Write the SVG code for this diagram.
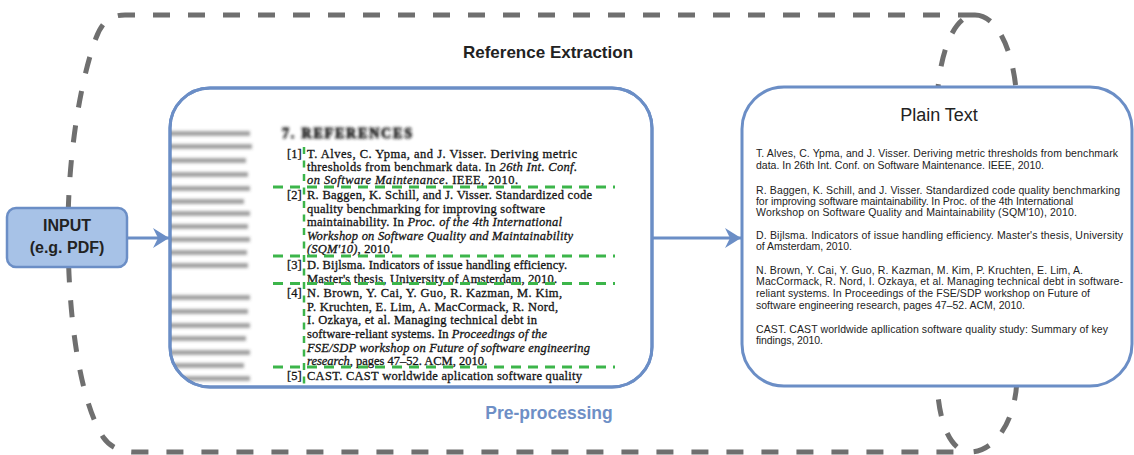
<svg xmlns="http://www.w3.org/2000/svg" width="1134" height="455" viewBox="0 0 1134 455">
<style>
.dash{fill:none;stroke:#6f6f6f;stroke-width:5;stroke-dasharray:17 18}
.panel{fill:#fff;stroke:#6b8ec6;stroke-width:3}
.conn{stroke:#6b8ec6;stroke-width:3;fill:none}
.title{font-family:"Liberation Sans",Arial,sans-serif;font-weight:bold;font-size:17px;fill:#222;text-anchor:middle}
.ser{font-family:"Liberation Serif","Times New Roman",serif;font-size:12.5px;fill:#141414;stroke:#141414;stroke-width:0.3}
.it{font-style:italic}
.san{font-family:"Liberation Sans",Arial,sans-serif;font-size:10.5px;fill:#222}
.gh{stroke:#3cb54a;stroke-width:3;stroke-dasharray:10 7;fill:none}
.gv{stroke:#3cb54a;stroke-width:2.5;stroke-dasharray:7 6.5;fill:none}
.blur{fill:#4a4a4a;opacity:0.5}
</style>
<defs>
<marker id="arr" markerUnits="userSpaceOnUse" markerWidth="18" markerHeight="20" refX="16" refY="10" orient="auto">
<path d="M0,0 L16,10 L0,20 L5,10 Z" fill="#6b8ec6"/>
</marker>
<filter id="bl" x="-10%" y="-50%" width="120%" height="200%"><feGaussianBlur stdDeviation="1.8"/></filter>
<filter id="bl2" x="-10%" y="-50%" width="120%" height="200%"><feGaussianBlur stdDeviation="1.5"/></filter>
<clipPath id="midclip"><rect x="170" y="88" width="482" height="299" rx="40"/></clipPath>
</defs>
<rect width="1134" height="455" fill="#fff"/>

<g id="boundary">
<path class="dash" d="M975,15 L125,15 C110,15 102,22 96,38 C82,75 68,150 68,230 C68,320 80,400 103,437 C110,447 120,452 135,452 L970,452"/>
<path class="dash" d="M975,15 C1000,15 1017,60 1017,110 L1017,375 C1017,420 995,452 970,452 C950,452 937,420 937,375 L937,110 C937,60 952,15 975,15 Z"/>
<text class="title" x="548" y="58">Reference Extraction</text>
<text class="title" x="549" y="419" style="fill:#6e8fc6;font-size:17.5px">Pre-processing</text>
</g>

<g id="connectors">
<line class="conn" x1="127" y1="238" x2="169" y2="238" marker-end="url(#arr)"/>
<line class="conn" x1="652" y1="238" x2="741" y2="238" marker-end="url(#arr)"/>
</g>

<g id="input">
<rect x="7" y="208" width="120" height="59" rx="9" fill="#a7c2e7" stroke="#6b8ec6" stroke-width="2.5"/>
<text class="title" x="67" y="231" style="font-size:16px">INPUT</text>
<text class="title" x="67" y="253" style="font-size:16px">(e.g. PDF)</text>
</g>

<g id="pdf">
<rect class="panel" x="170" y="88" width="482" height="299" rx="40"/>
<g clip-path="url(#midclip)">
<g filter="url(#bl)">
<rect class="blur" x="160" y="131" width="90" height="5"/>
<rect class="blur" x="160" y="144" width="92" height="5"/>
<rect class="blur" x="160" y="158" width="86" height="5"/>
<rect class="blur" x="160" y="172" width="88" height="5"/>
<rect class="blur" x="160" y="186" width="90" height="5"/>
<rect class="blur" x="160" y="199" width="84" height="5"/>
<rect class="blur" x="160" y="211" width="90" height="5"/>
<rect class="blur" x="160" y="224" width="88" height="5"/>
<rect class="blur" x="160" y="237" width="90" height="5"/>
<rect class="blur" x="160" y="250" width="87" height="5"/>
<rect class="blur" x="160" y="263" width="88" height="5"/>
<rect class="blur" x="160" y="295" width="90" height="5"/>
<rect class="blur" x="160" y="309" width="88" height="5"/>
<rect class="blur" x="160" y="323" width="90" height="5"/>
<rect class="blur" x="160" y="336" width="86" height="5"/>
<rect class="blur" x="160" y="350" width="90" height="5"/>
<rect class="blur" x="160" y="363" width="84" height="5"/>
<rect class="blur" x="160" y="376" width="90" height="5"/>
</g>
<text class="ser" x="282" y="138" filter="url(#bl2)" style="font-weight:bold;font-size:14px;stroke-width:0.8" textLength="130">7.   REFERENCES</text>
<text class="ser" x="287" y="157.5">[1]</text>
<text class="ser" x="307" y="157.5" textLength="270">T. Alves, C. Ypma, and J. Visser. Deriving metric</text>
<text class="ser" x="307" y="170.5" textLength="270">thresholds from benchmark data. In <tspan class="it">26th Int. Conf.</tspan></text>
<text class="ser" x="307" y="183.5" textLength="211"><tspan class="it">on Software Maintenance</tspan>. IEEE, 2010.</text>
<text class="ser" x="287" y="199">[2]</text>
<text class="ser" x="307" y="199" textLength="285">R. Baggen, K. Schill, and J. Visser. Standardized code</text>
<text class="ser" x="307" y="212.5" textLength="238">quality benchmarking for improving software</text>
<text class="ser" x="307" y="226" textLength="255">maintainability. In <tspan class="it">Proc. of the 4th International</tspan></text>
<text class="ser it" x="307" y="240" textLength="266">Workshop on Software Quality and Maintainability</text>
<text class="ser" x="307" y="253" textLength="86"><tspan class="it">(SQM'10)</tspan>, 2010.</text>
<text class="ser" x="287" y="269">[3]</text>
<text class="ser" x="307" y="269" textLength="260">D. Bijlsma. Indicators of issue handling efficiency.</text>
<text class="ser" x="307" y="282.5" textLength="250">Master's thesis, University of Amsterdam, 2010.</text>
<text class="ser" x="287" y="296.5">[4]</text>
<text class="ser" x="307" y="296.5" textLength="255">N. Brown, Y. Cai, Y. Guo, R. Kazman, M. Kim,</text>
<text class="ser" x="307" y="310.5" textLength="251">P. Kruchten, E. Lim, A. MacCormack, R. Nord,</text>
<text class="ser" x="307" y="324" textLength="230">I. Ozkaya, et al. Managing technical debt in</text>
<text class="ser" x="307" y="338" textLength="240">software-reliant systems. In <tspan class="it">Proceedings of the</tspan></text>
<text class="ser it" x="307" y="351.5" textLength="283">FSE/SDP workshop on Future of software engineering</text>
<text class="ser" x="307" y="365" textLength="180"><tspan class="it">research</tspan>, pages 47–52. ACM, 2010.</text>
<text class="ser" x="287" y="379.5">[5]</text>
<text class="ser" x="307" y="379.5" textLength="275">CAST. CAST worldwide aplication software quality</text>
<line class="gv" x1="304" y1="147" x2="304" y2="386"/>
<line class="gh" x1="273" y1="187" x2="615" y2="187"/>
<line class="gh" x1="273" y1="256" x2="615" y2="256"/>
<line class="gh" x1="273" y1="283.5" x2="615" y2="283.5"/>
<line class="gh" x1="273" y1="367" x2="615" y2="367"/>
</g>
<rect x="170" y="88" width="482" height="299" rx="40" fill="none" stroke="#6b8ec6" stroke-width="3"/>
</g>

<g id="plaintext">
<rect class="panel" x="742" y="87" width="390" height="299" rx="42"/>
<text x="939" y="121" style="font-family:'Liberation Sans',Arial,sans-serif;font-size:18px;fill:#222;text-anchor:middle">Plain Text</text>
<text class="san" x="756" y="157" textLength="362">T. Alves, C. Ypma, and J. Visser. Deriving metric thresholds from benchmark</text>
<text class="san" x="756" y="168.7" textLength="288">data. In 26th Int. Conf. on Software Maintenance. IEEE, 2010.</text>
<text class="san" x="756" y="193.7" textLength="364">R. Baggen, K. Schill, and J. Visser. Standardized code quality benchmarking</text>
<text class="san" x="756" y="204.7" textLength="317">for improving software maintainability. In Proc. of the 4th International</text>
<text class="san" x="756" y="215.5" textLength="321">Workshop on Software Quality and Maintainability (SQM'10), 2010.</text>
<text class="san" x="756" y="238.7" textLength="367">D. Bijlsma. Indicators of issue handling efficiency. Master's thesis, University</text>
<text class="san" x="756" y="250.4" textLength="96">of Amsterdam, 2010.</text>
<text class="san" x="756" y="273.7" textLength="327">N. Brown, Y. Cai, Y. Guo, R. Kazman, M. Kim, P. Kruchten, E. Lim, A.</text>
<text class="san" x="756" y="285.4" textLength="367">MacCormack, R. Nord, I. Ozkaya, et al. Managing technical debt in software-</text>
<text class="san" x="756" y="297" textLength="334">reliant systems. In Proceedings of the FSE/SDP workshop on Future of</text>
<text class="san" x="756" y="308.7" textLength="269">software engineering research, pages 47–52. ACM, 2010.</text>
<text class="san" x="756" y="332.7" textLength="352">CAST. CAST worldwide apllication software quality study: Summary of key</text>
<text class="san" x="756" y="344" textLength="67">findings, 2010.</text>
</g>
</svg>
